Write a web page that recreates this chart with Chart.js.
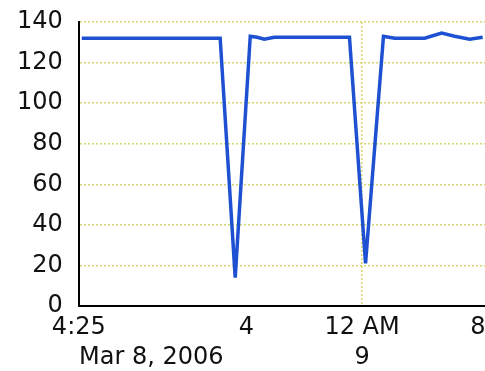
<!DOCTYPE html>
<html lang="en">
<head>
    <script src="https://cdn.jsdelivr.net/npm/chart.js"></script>
    <style>
        html, body { margin: 0; padding: 0; background: #fff; }
        .wrap { width: 485px; height: 371px; }
    </style>
</head>
<body>
    <div class="wrap"><canvas id="trend"></canvas></div>
    <script>
        // hours since Mar 8, 2006 00:00
        const hours = [4.62, 14.19, 15.23, 16.27, 16.75, 17.24, 17.93, 19.66, 23.13, 24.24, 25.48, 26.25, 28.33, 29.5, 30.4, 31.44, 32.34];
        const values = [132, 132, 14, 133, 132.5, 131.5, 132.5, 132.5, 132.5, 21, 133, 132, 132, 134.5, 133, 131.5, 132.5];
        const tickHours = [4 + 25 / 60, 8, 16, 24, 32];
        const pad = ' '.repeat(19);
        const tickLabels = [['4:25', pad + 'Mar 8, 2006'], '', '4', ['12 AM', '9'], '8'];
        const yTicks = [0, 20, 40, 60, 80, 100, 120, 140];

        const gridYellow = '#d6d670';
        const font = { family: 'DejaVu Sans', size: 24 };

        new Chart(document.getElementById('trend'), {
            type: 'line',
            data: {
                datasets: [{
                    data: hours.map((h, i) => ({ x: h, y: values[i] })),
                    borderColor: '#1e50d2',
                    borderWidth: 3.5,
                    pointRadius: 0,
                    tension: 0
                }]
            },
            options: {
                responsive: true,
                maintainAspectRatio: false,
                animation: false,
                layout: { padding: { left: 1, top: 22, right: 0, bottom: -9 } },
                plugins: { legend: { display: false }, tooltip: { enabled: false } },
                scales: {
                    x: {
                        type: 'linear',
                        min: tickHours[0],
                        max: 32.5,
                        afterBuildTicks: s => { s.ticks = tickHours.map(v => ({ value: v })); },
                        // the long date label would otherwise push the plot around
                        afterFit: s => { s.paddingLeft = 0; s.paddingRight = 0; s.paddingTop = 0; s.paddingBottom = 0; },
                        ticks: {
                            autoSkip: false,
                            maxRotation: 0,
                            color: '#111',
                            font: { ...font, lineHeight: 1.25 },
                            padding: 7,
                            callback: v => tickLabels[tickHours.indexOf(v)]
                        },
                        grid: {
                            drawTicks: false,
                            color: c => (c.tick && c.tick.value === 24) ? gridYellow : 'rgba(0,0,0,0)',
                            lineWidth: 1.5
                        },
                        border: { display: true, color: '#000', width: 2, dash: [2, 2] }
                    },
                    y: {
                        min: 0,
                        max: 140,
                        afterBuildTicks: s => { s.ticks = yTicks.map(v => ({ value: v })); },
                        afterFit: s => { s.paddingTop = 0; },
                        ticks: { color: '#111', font: font, padding: 16 },
                        grid: { drawTicks: false, color: gridYellow, lineWidth: 1.5 },
                        border: { display: true, color: '#000', width: 2, dash: [2, 2] }
                    }
                }
            }
        });
    </script>
</body>
</html>
